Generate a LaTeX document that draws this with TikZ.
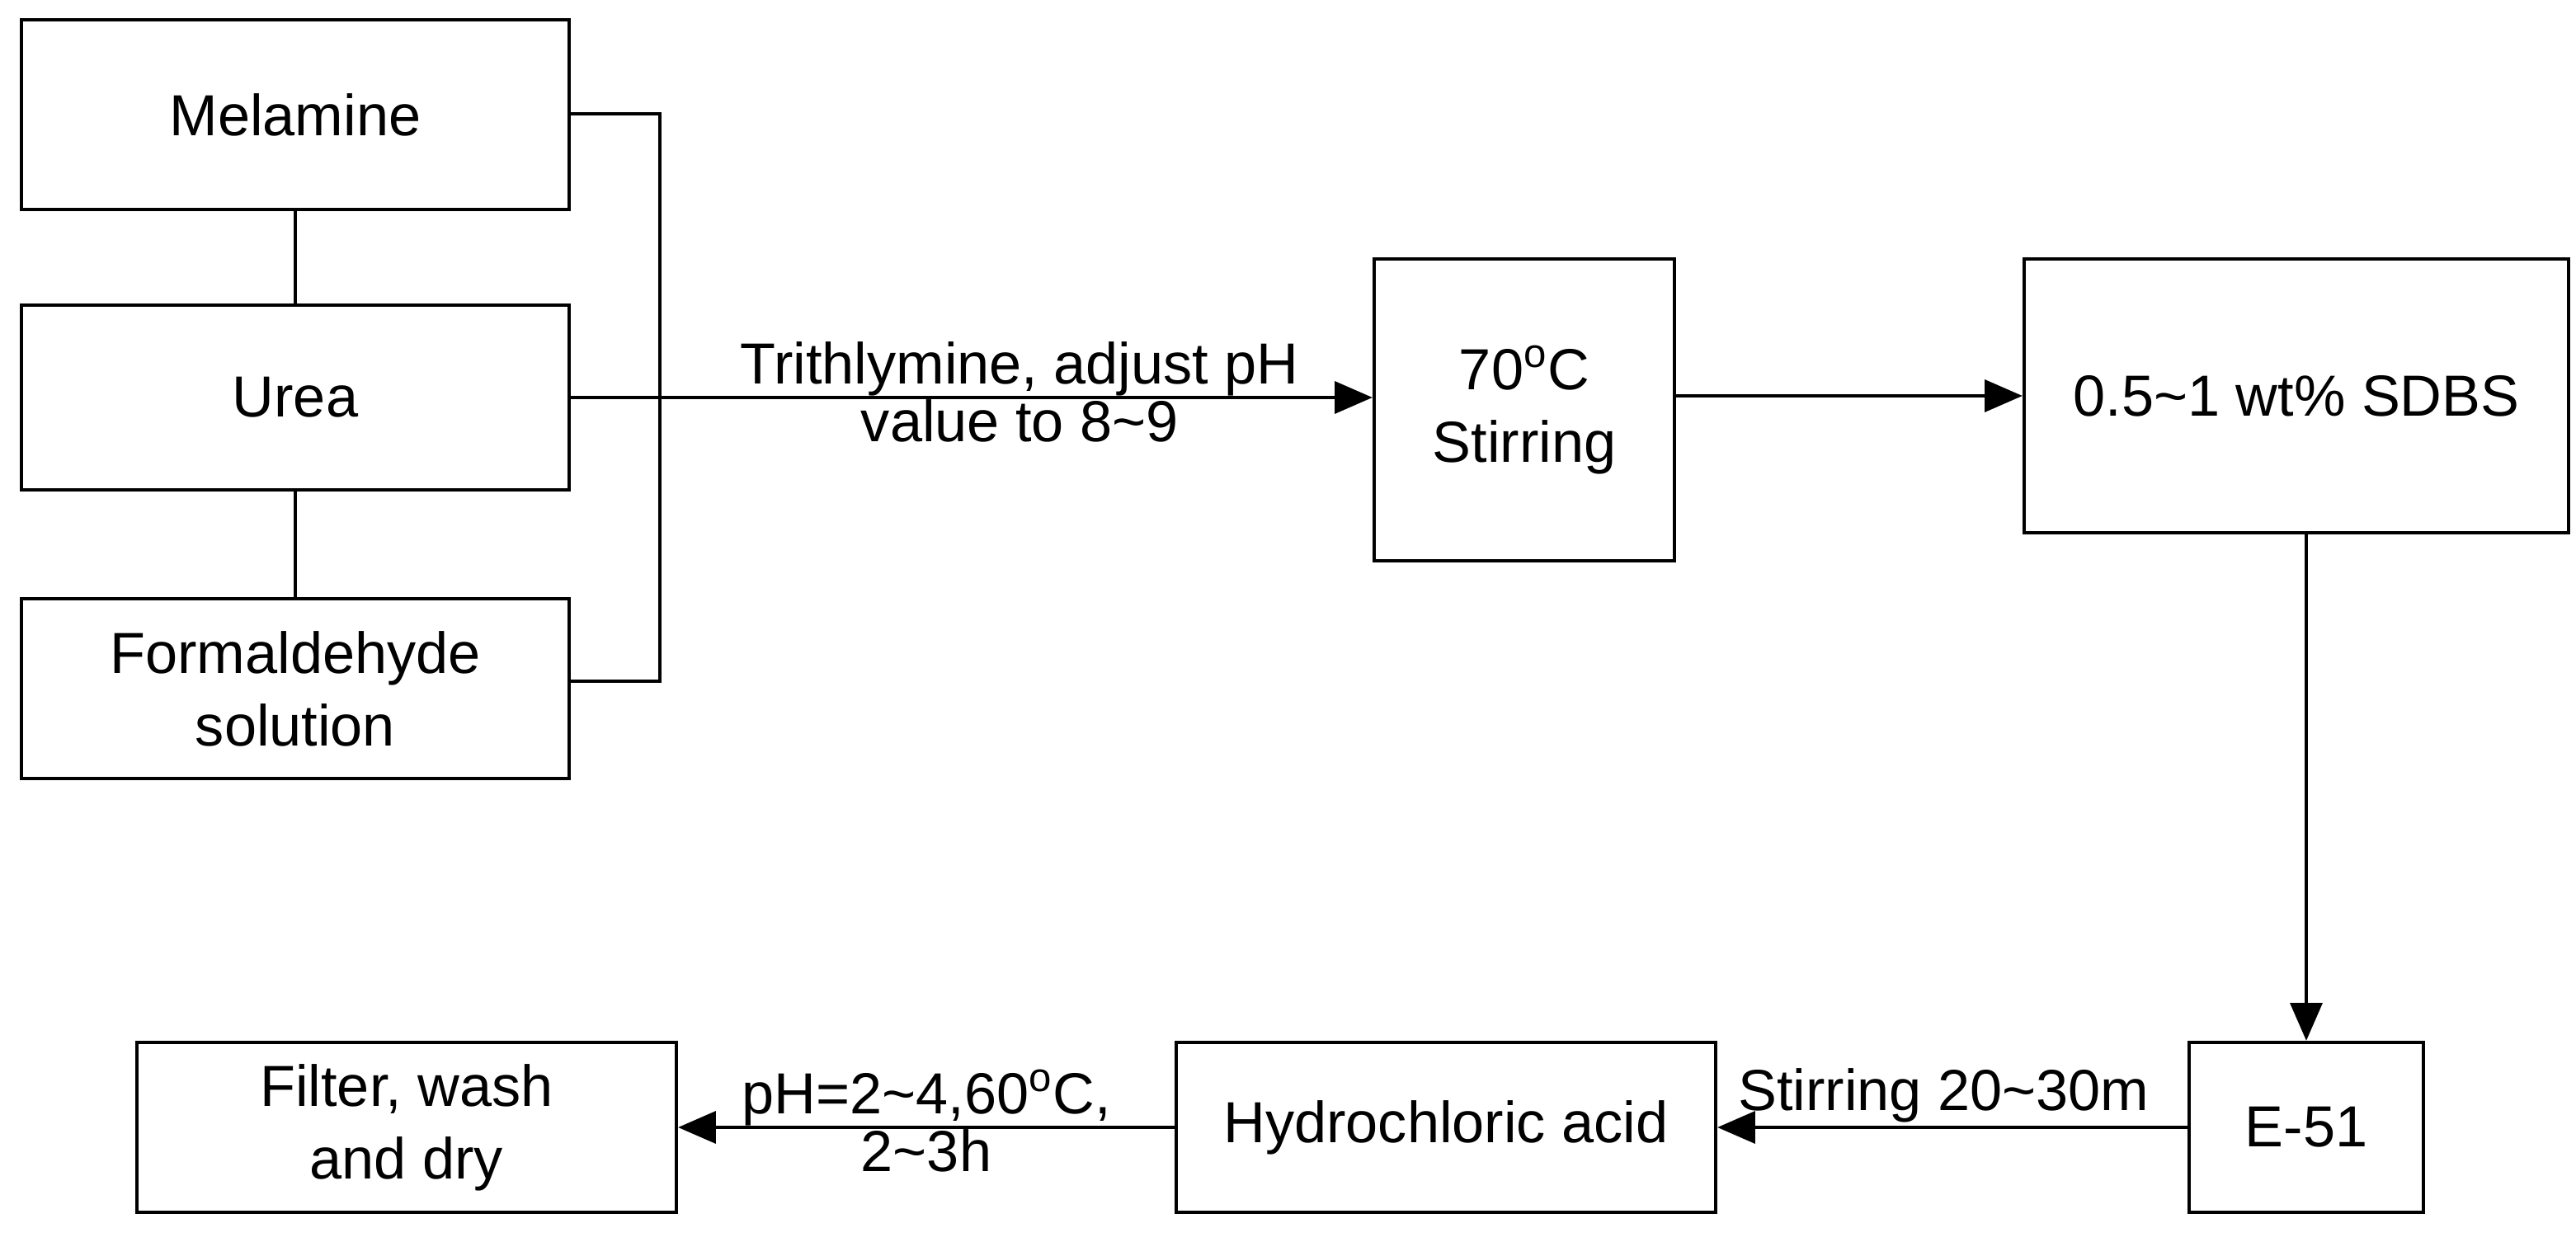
\documentclass[tikz,border=0pt]{standalone}
\usepackage{fontspec}
\setmainfont{Liberation Sans}
\usetikzlibrary{arrows.meta}
\begin{document}
\begin{tikzpicture}[x=0.02cm,y=-0.02cm,
  bx/.style={draw,line width=1.2pt,inner sep=0pt,align=center,font=\fontsize{20}{25}\selectfont},
  ln/.style={line width=1.2pt},
  ar/.style={line width=1.2pt,-{Triangle[length=13pt,width=11pt]}},
  lb/.style={font=\fontsize{20}{25}\selectfont,inner sep=2pt}]
\useasboundingbox (0,0) rectangle (1561.5,753);
\node[bx,minimum width=332*0.02cm,minimum height=115*0.02cm] (mel) at (179,69.5) {Melamine};
\node[bx,minimum width=332*0.02cm,minimum height=112*0.02cm] (urea) at (179,241) {Urea};
\node[bx,minimum width=332*0.02cm,minimum height=109*0.02cm] (form) at (179,417.5) {Formaldehyde\\solution};
\node[bx,minimum width=182*0.02cm,minimum height=183*0.02cm] (stir) at (924,248.5) {70\textsuperscript{o}C\\Stirring};
\node[bx,minimum width=330*0.02cm,minimum height=166*0.02cm] (sdbs) at (1392,240) {0.5\textasciitilde1 wt\% SDBS};
\node[bx,minimum width=142*0.02cm,minimum height=103*0.02cm] (e51) at (1398,683.5) {E-51};
\node[bx,minimum width=327*0.02cm,minimum height=103*0.02cm] (hcl) at (876.5,683.5) {Hydrochloric acid};
\node[bx,minimum width=327*0.02cm,minimum height=103*0.02cm] (fil) at (246.5,683.5) {Filter, wash\\and dry};
\draw[ln] (mel.south) -- (urea.north);
\draw[ln] (urea.south) -- (form.north);
\coordinate (b1) at (400,69);
\coordinate (b2) at (400,413);
\draw[ln] (mel.east |- b1) -- (b1) -- (b2) -- (form.east |- b2);
\draw[ar] (urea.east) -- (stir.west |- urea.east)
  node[lb,pos=0.56,above=-2pt] {Trithlymine, adjust pH}
  node[lb,pos=0.56,below=-2pt] {value to 8\textasciitilde9};
\draw[ar] (stir.east |- sdbs.west) -- (sdbs.west);
\draw[ar] (sdbs.south -| e51.north) -- (e51.north);
\draw[ar] (e51.west) -- (hcl.east) node[lb,pos=0.5,above=-1pt,xshift=-3pt] {Stirring 20\textasciitilde30m};
\draw[ar] (hcl.west) -- (fil.east)
  node[lb,pos=0.5,above=-2pt] {pH=2\textasciitilde4,60\textsuperscript{o}C,}
  node[lb,pos=0.5,below=-2pt] {2\textasciitilde3h};
\end{tikzpicture}
\end{document}
